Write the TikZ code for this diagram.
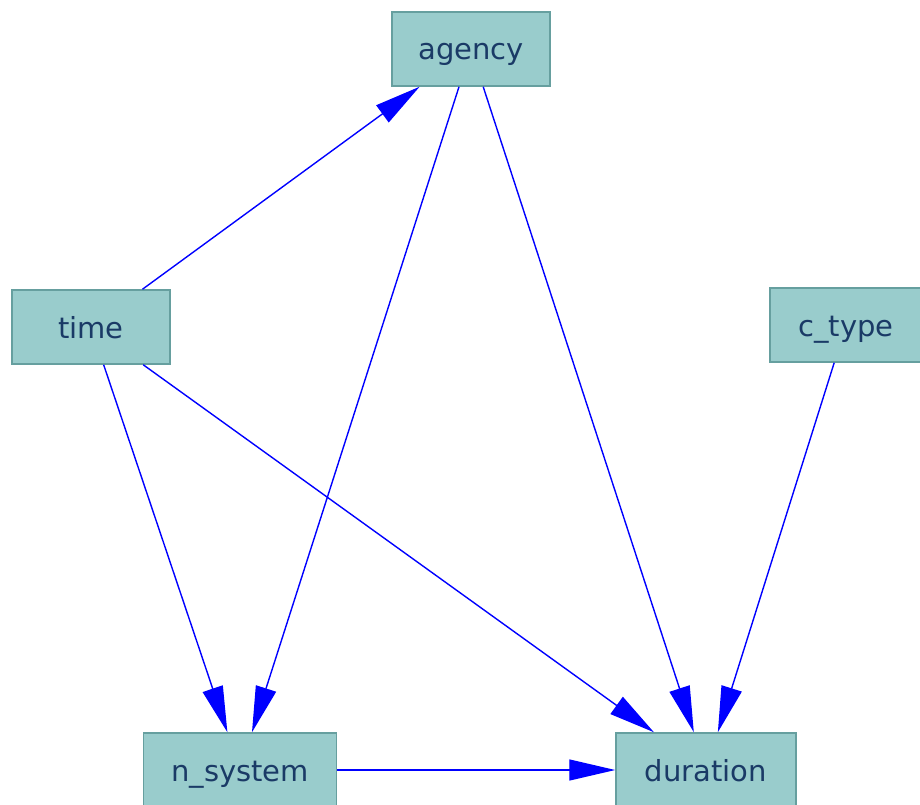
\documentclass[tikz,border=0pt]{standalone}
\usepackage{fontspec}
\setmainfont{DejaVu Sans}
\usepackage{xcolor}
\usetikzlibrary{arrows.meta}

\definecolor{boxfill}{HTML}{99CCCC}
\definecolor{boxline}{HTML}{669F9F}
\definecolor{boxtext}{HTML}{1A3A66}

\begin{document}
\begin{tikzpicture}[
    x=1pt, y=-1pt,
    var/.style={rectangle, draw=boxline, line width=1.5pt, fill=boxfill,
                text=boxtext, minimum height=74pt, inner sep=0pt,
                text height=22pt, text depth=0pt,
                font=\fontsize{29}{34}\selectfont},
    link/.style={draw=blue, line width=1.4pt,
                 -{Triangle[length=46pt, width=21pt]}},
]
\useasboundingbox (0,0) rectangle (920,805);

\node [var, minimum width=158pt] (agency)   at (471,49)  {agency};
\node [var, minimum width=158pt] (time)     at (91,327)  {time};
\node [var, minimum width=152pt] (ctype)    at (846,325) {c\_type};
\node [var, minimum width=193pt] (nsystem)  at (240,770) {n\_system};
\node [var, minimum width=180pt] (duration) at (706,770) {duration};

\draw [link] (time) -- (agency);
\draw [link] (time) -- (nsystem);
\draw [link] (time) -- (duration);
\draw [link] (agency) -- (nsystem);
\draw [link] (agency) -- (duration);
\draw [link] (ctype) -- (duration);
\draw [link] (nsystem) -- (duration);

\end{tikzpicture}
\end{document}
